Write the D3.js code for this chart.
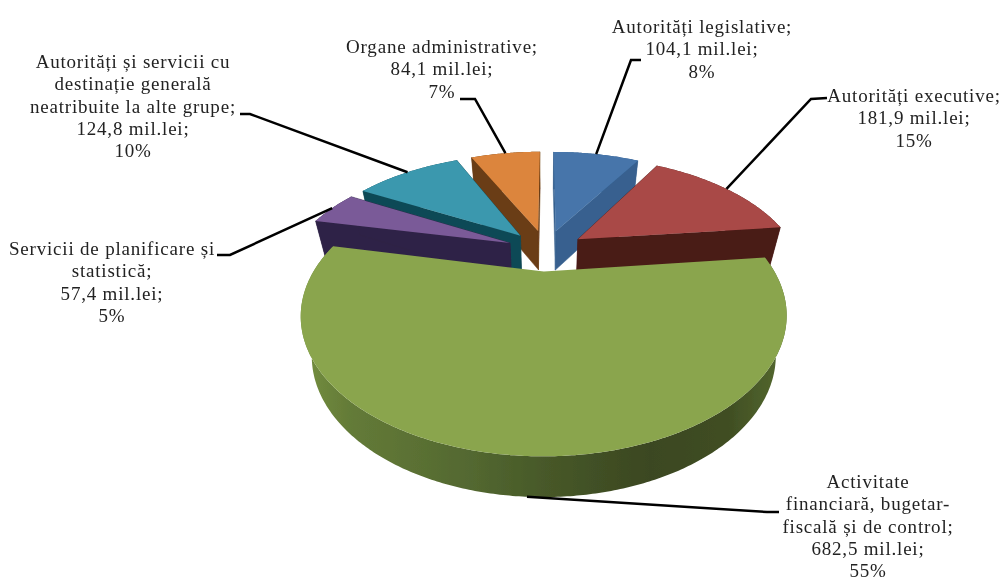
<!DOCTYPE html>
<html><head><meta charset="utf-8">
<script src="https://cdn.jsdelivr.net/npm/d3@7"></script>
<style>html,body{margin:0;background:#fff}svg{display:block}</style></head>
<body><svg id="c" width="1001" height="580"></svg>
<script>
const categories=["Autorități legislative","Autorități executive","Activitate financiară, bugetar-fiscală și de control","Servicii de planificare și statistică","Autorități și servicii cu destinație generală neatribuite la alte grupe","Organe administrative"];
const values=[104.1,181.9,682.5,57.4,124.8,84.1];
const percents=[8,15,55,5,10,7];
const topColors=["#4675aa","#a94a47","#8aa54e","#7a5a98","#3b98ae","#dc853c"];
const wallColors=["#37608f","#4a1b18","url(#greenWall)","#2f2346","#114a56","#6a3c15"];
const labelLines=[
 ["Autorități legislative;","104,1 mil.lei;","8%"],
 ["Autorități executive;","181,9 mil.lei;","15%"],
 ["Activitate","financiară, bugetar-","fiscală și de control;","682,5 mil.lei;","55%"],
 ["Servicii de planificare și","statistică;","57,4 mil.lei;","5%"],
 ["Autorități și servicii cu","destinație generală","neatribuite la alte grupe;","124,8 mil.lei;","10%"],
 ["Organe administrative;","84,1 mil.lei;","7%"]];
const labelCx=[702,914,868,112,133,442];
const labelTop=[33,102,488,255,68,53];
const leaders=[[[631,60],[641,60]],[[811,99],[827,98]],[[767,512],[779,512]],[[230,255],[217,255]],[[250,114],[240,114]],[[475,99],[460,99]]];
const drawOrder=[5,0,4,1,3,2];

const svg=d3.select("#c");
const defs=svg.append("defs");
const g=defs.append("linearGradient").attr("id","greenWall").attr("gradientUnits","userSpaceOnUse").attr("x1",300).attr("x2",787).attr("y1",0).attr("y2",0);
[[0,"#75903f"],[.1,"#647b38"],[.35,"#536830"],[.52,"#465728"],[.72,"#3b4721"],[.88,"#404e23"],[1,"#566b30"]].forEach(s=>g.append("stop").attr("offset",s[0]).attr("stop-color",s[1]));
defs.append("filter").attr("id","soft").append("feGaussianBlur").attr("stdDeviation",.35);

const cx=546,cy=250,R=218,K=113,p=.3,explode=.18,wallShrink=.955;
const pie=d3.pie().sort(null).value(d=>d).startAngle(0).endAngle(2*Math.PI);
const arcs=pie(values);
const sx=d3.scaleLinear().domain([0,1]).range([cx,cx+R]);
const sy=d3.scaleLinear().domain([0,1]).range([cy,cy+K]);
function proj(X,Y,z){
  const s=1/(1-p*Y);
  const x=sx(X*s), y=sy(Y*s);
  if(!z) return [x,y];
  return [cx+(x-cx)*wallShrink, y+39+1.5*Y];
}
const line=d3.line().curve(d3.curveLinear);
function mk(a){
  const mid=(a.startAngle+a.endAngle)/2;
  const ox=explode*Math.sin(mid), oy=-explode*Math.cos(mid);
  const rim=t=>[ox+Math.sin(t),oy-Math.cos(t)];
  const n=Math.max(8,Math.round((a.endAngle-a.startAngle)/.01));
  const ts=d3.range(n+1).map(i=>a.startAngle+(a.endAngle-a.startAngle)*i/n);
  return {mid,apex:[ox,oy],rim:ts.map(rim),midRim:rim(mid)};
}
const slices=arcs.map(mk);
const root=svg.append("g").attr("filter","url(#soft)");
drawOrder.forEach(i=>{
  const s=slices[i];
  const top=s.rim.map(q=>proj(q[0],q[1],false));
  const bot=s.rim.map(q=>proj(q[0],q[1],true));
  const a0=proj(s.apex[0],s.apex[1],false), a1=proj(s.apex[0],s.apex[1],true);
  const w=wallColors[i];
  root.append("path").attr("d",line([...top,...bot.slice().reverse()])+"Z").attr("fill",w);
  if(i!==2){
    root.append("path").attr("d",line([a0,top[0],bot[0],a1])+"Z").attr("fill",w).attr("stroke",w).attr("stroke-width",.5);
    root.append("path").attr("d",line([a0,top[top.length-1],bot[bot.length-1],a1])+"Z").attr("fill",w).attr("stroke",w).attr("stroke-width",.5);
  }
  root.append("path").attr("d",line([a0,...top])+"Z").attr("fill",topColors[i]);
});
slices.forEach((s,i)=>{
  const start=proj(s.midRim[0],s.midRim[1],i===2);
  svg.append("path").attr("d",line([start,...leaders[i]])).attr("fill","none").attr("stroke","#000").attr("stroke-width",2.5);
});
labelLines.forEach((ls,i)=>{
  const t=svg.append("text").attr("text-anchor","middle").attr("font-family","'Liberation Serif',serif").attr("font-size",19).attr("letter-spacing",.8).attr("fill","#222").attr("filter","url(#soft)");
  ls.forEach((l,j)=>t.append("tspan").attr("x",labelCx[i]).attr("y",labelTop[i]+j*22.3).text(l));
});
</script></body></html>
